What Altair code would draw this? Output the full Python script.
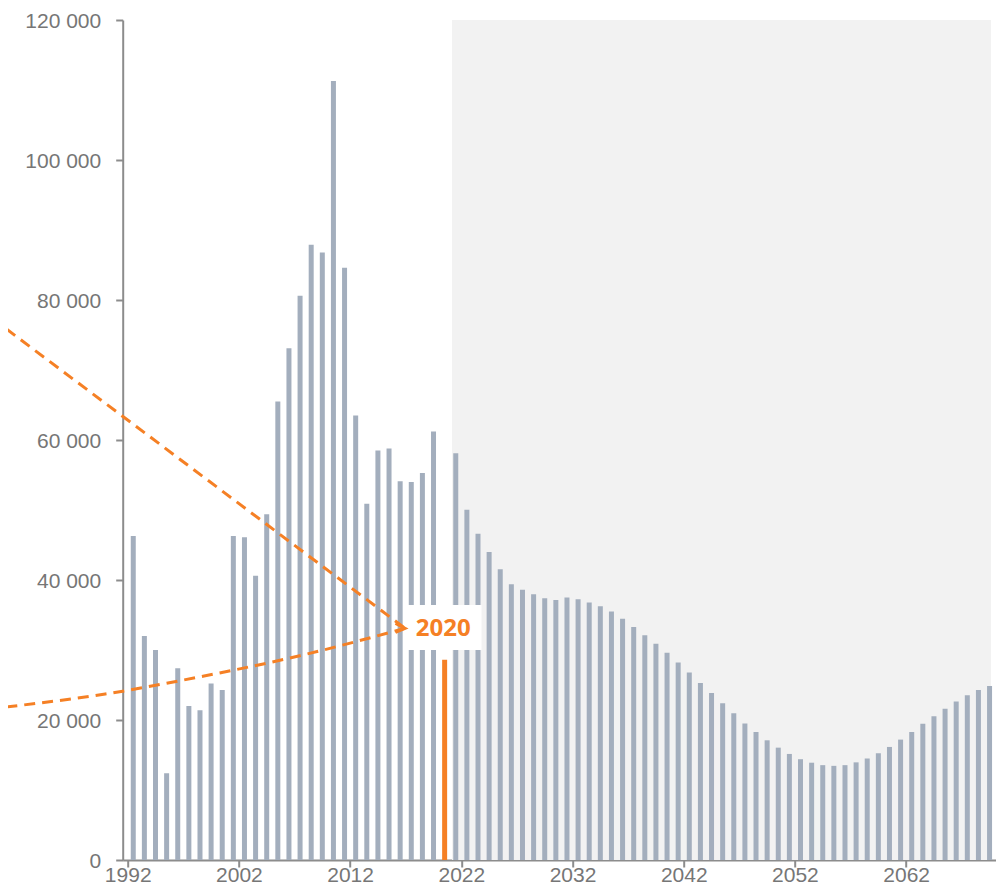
import altair as alt
import pandas as pd

# ---- data ----
years = list(range(1992, 2071))
values = [46300, 32000, 30000, 12400, 27400, 22000, 21400, 25200, 24300,
          46300, 46100, 40600, 49400, 65500, 73100, 80600, 87900, 86800, 111300, 84600,
          63500, 50900, 58500, 58800, 54100, 54000, 55300, 61200, 28600,
          58100, 50050, 46600, 44000, 41550, 39400, 38600, 37950, 37400, 37150,
          37500, 37250, 36800, 36250, 35500, 34450, 33300, 32100, 30900, 29600,
          28200, 26800, 25300, 23850, 22400, 20950,
          19500, 18300, 17100, 16050, 15150, 14400, 13900, 13550, 13450, 13550,
          13950, 14500, 15250, 16150, 17200, 18300, 19450, 20550, 21600, 22650,
          23550, 24300, 24850, 25250]
highlight_year = 2020
x_tick_values = [1992, 2002, 2012, 2022, 2032, 2042, 2052, 2062]
y_tick_values = [0, 20000, 40000, 60000, 80000, 100000, 120000]

# projection zone (shaded) and annotation anchors, in data units
x_domain = [1992, 2069.63]
proj_start = [2021.16]
label_text = ["2020"]
label_x = [2020.38]
label_y = [33000]
box_x = [2016.82, 2023.82]
box_y = [30000, 36430]
upper_line_x = [1981.09, 2016.94]
upper_line_y = [75857, 33100]
lower_line_x = [1981.09, 1989.98, 1998.87, 2007.76, 2016.94]
lower_line_y = [21857, 23714, 26286, 29286, 33100]
arrow_x = [2016.08, 2016.94, 2016.08]
arrow_y = [33814, 33100, 32529]

BAR = "#a3aebd"
ORANGE = "#f58025"
AX = "#8c8c8c"
TXT = "#767676"
AXFONT = "Liberation Sans"
FONT = "Open Sans"

df = pd.DataFrame({"year": years, "value": values})
df["xc"] = df["year"] + 0.5
df["kind"] = ["hl" if y == highlight_year else "base" for y in years]

xscale = alt.Scale(domain=x_domain, nice=False, zero=False)
yscale = alt.Scale(domain=[0, 120000], nice=False)

xaxis = alt.Axis(values=x_tick_values, format="d", title=None, grid=False,
                 tickSize=7, labelPadding=14.5, labelBaseline="alphabetic",
                 domainColor=AX, tickColor=AX,
                 domainWidth=2, tickWidth=2, labelColor=TXT, labelFont=AXFONT,
                 labelFontSize=21, labelFlush=False, labelOverlap=False)
yaxis = alt.Axis(values=y_tick_values, title=None, grid=False,
                 labelExpr="replace(format(datum.value, ','), ',', ' ')",
                 labelBaseline="alphabetic", labelOffset=7.5,
                 tickSize=7, labelPadding=15, domainColor=AX, tickColor=AX,
                 domainWidth=2, tickWidth=2, labelColor=TXT, labelFont=AXFONT,
                 labelFontSize=21, labelOverlap=False)

bg_df = pd.DataFrame({"x0": proj_start, "x1": [x_domain[1]], "y0": [0], "y1": [120000]})
bg = alt.Chart(bg_df).mark_rect(color="#f2f2f2").encode(
    x=alt.X("x0:Q", scale=xscale, axis=xaxis),
    x2="x1:Q",
    y=alt.Y("y0:Q", scale=yscale, axis=yaxis),
    y2="y1:Q",
)

bars = alt.Chart(df).mark_bar(size=5, clip=True).encode(
    x=alt.X("xc:Q", scale=xscale, axis=xaxis),
    y=alt.Y("value:Q", scale=yscale, axis=yaxis),
    color=alt.Color("kind:N", scale=alt.Scale(domain=["base", "hl"], range=[BAR, ORANGE]), legend=None),
)

box_df = pd.DataFrame({"x0": [box_x[0]], "x1": [box_x[1]], "y0": [box_y[0]], "y1": [box_y[1]]})
box = alt.Chart(box_df).mark_rect(color="white").encode(
    x=alt.X("x0:Q", scale=xscale, axis=xaxis), x2="x1:Q",
    y=alt.Y("y0:Q", scale=yscale, axis=yaxis), y2="y1:Q",
)

lab_df = pd.DataFrame({"x": label_x, "y": label_y, "t": label_text})
lab = alt.Chart(lab_df).mark_text(font=FONT, fontSize=24, fontWeight="bold", color=ORANGE,
                                   align="center", baseline="middle").encode(
    x=alt.X("x:Q", scale=xscale, axis=xaxis),
    y=alt.Y("y:Q", scale=yscale, axis=yaxis),
    text="t:N",
)

lines_df = pd.DataFrame({
    "x": upper_line_x + lower_line_x,
    "y": upper_line_y + lower_line_y,
    "g": ["u"] * len(upper_line_x) + ["l"] * len(lower_line_x),
    "o": list(range(len(upper_line_x))) + list(range(len(lower_line_x))),
})
lines = alt.Chart(lines_df).mark_line(color=ORANGE, strokeWidth=3, strokeDash=[11, 7],
                                      interpolate="monotone").encode(
    x=alt.X("x:Q", scale=xscale, axis=xaxis),
    y=alt.Y("y:Q", scale=yscale, axis=yaxis),
    detail="g:N",
    order="o:Q",
)

arr_df = pd.DataFrame({"x": arrow_x, "y": arrow_y, "o": [0, 1, 2]})
arrow = alt.Chart(arr_df).mark_line(color=ORANGE, strokeWidth=3).encode(
    x=alt.X("x:Q", scale=xscale, axis=xaxis),
    y=alt.Y("y:Q", scale=yscale, axis=yaxis),
    order="o:Q",
)

chart = alt.layer(bg, bars, box, lab, lines, arrow).properties(
    width=873.3, height=840,
    autosize=alt.AutoSizeParams(type="none"),
    padding={"left": 114.7, "top": 12, "right": 0, "bottom": 26},
).configure_view(stroke=None)

chart.save("out.html", embed_options={"renderer": "svg", "actions": False})
